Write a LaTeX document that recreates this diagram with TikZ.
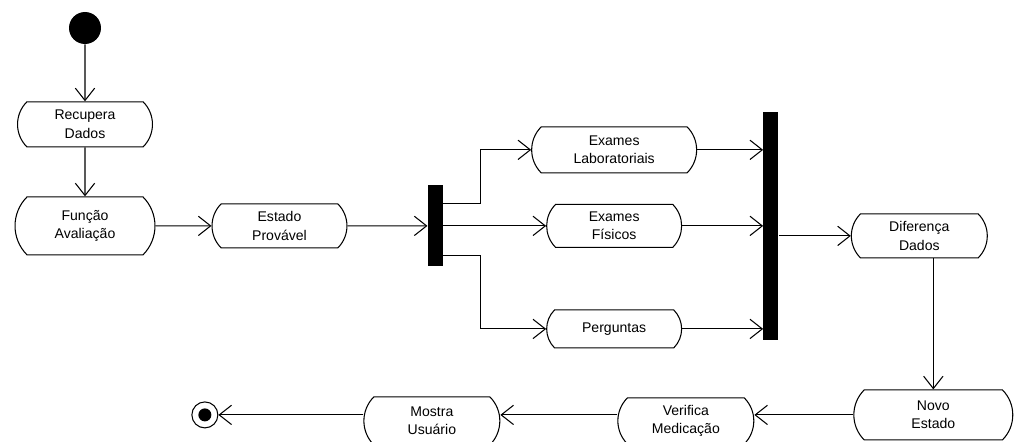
\documentclass[tikz,border=0pt]{standalone}
\usepackage{fontspec}
\setsansfont{Liberation Sans}
\usepackage{tikz}
\usetikzlibrary{positioning, calc, shapes.misc, arrows.meta}
\tikzstyle{Flow} = [
    line width = 0.6pt,
    -{Straight Barb[length=7pt, width=11pt]}
]

\begin{document}
\begin{tikzpicture}[
x = 0.02cm, y = -0.02cm,
action/.style = {
    rounded rectangle,
    rounded rectangle arc length = 90,
    draw,
    line width = 0.6pt,
    align = center,
    inner sep = 2pt,
    minimum width = 2.84cm,
    minimum height = 0.9cm,
    font = \sffamily\fontsize{8}{10.6}\selectfont
    },
bar/.style = {
    rectangle,
    fill = black,
    inner sep = 0pt,
    minimum width = 0.3cm
    },
initial/.style = {
    circle,
    fill = black,
    inner sep = 0pt,
    minimum size = 0.64cm
    },
final/.style = {
    circle,
    draw,
    line width = 0.6pt,
    inner sep = 0pt,
    minimum size = 0.52cm,
    path picture = {\fill (path picture bounding box.center) circle (0.13cm);}
    }
]

\useasboundingbox (0,0) rectangle (1018,442);
\clip (0,0) rectangle (1018,442);

\node [initial] (1) at (85,28) {};
\node [action, below = 1.14cm of 1] (2) {Recupera\\Dados};
\node [action, below = 0.98cm of 2, minimum width = 2.94cm, minimum height = 1.16cm] (3) {Função\\Avaliação};
\node [action, right = 1.12cm of 3, minimum height = 0.88cm] (4) {Estado\\Provável};
\node [bar, right = 1.6cm of 4, minimum height = 1.62cm] (5) {};
\node [action, right = 2.06cm of 5, minimum height = 0.86cm] (7) {Exames\\Físicos};
\node [action, above = 0.61cm of 7, minimum width = 3.44cm, minimum height = 0.92cm] (6) {Exames\\Laboratoriais};
\node [action, below = 1.23cm of 7, minimum height = 0.76cm] (8) {Perguntas};
\node [bar, right = 1.62cm of 7, minimum height = 4.56cm] (9) {};
\node [action, right = 1.44cm of 9, yshift = -0.2cm, minimum width = 2.86cm, minimum height = 0.88cm] (10) {Diferença\\Dados};
\node [action, below = 2.62cm of 10, xshift = 0.28cm, minimum width = 3.32cm, minimum height = 1cm] (11) {Novo\\Estado};
\node [action, left = 1.98cm of 11, yshift = -0.12cm, minimum width = 2.86cm, minimum height = 0.92cm] (12) {Verifica\\Medicação};
\node [action, left = 2.34cm of 12, minimum width = 2.86cm, minimum height = 0.96cm] (13) {Mostra\\Usuário};
\node [final, left = 2.9cm of 13, yshift = 0.12cm] (14) {};

\draw[Flow] (1) -- (2);
\draw[Flow] (2) -- (3);
\draw[Flow] (3) -- (4);
\draw[Flow] (4) -- (5);

\draw[Flow] ($(5.east)+(0,-22)$) -- ++(37,0) |- (6.west);
\draw[Flow] (5.east) -- (7.west);
\draw[Flow] ($(5.east)+(0,30)$) -- ++(37,0) |- (8.west);

\draw[Flow] (6.east) -- (6.east -| 9.west);
\draw[Flow] (7.east) -- (9.west);
\draw[Flow] (8.east) -- (8.east -| 9.west);

\draw[Flow] (9.east |- 10.west) -- (10.west);
\draw[Flow] (10.south -| 11.north) -- (11.north);
\draw[Flow] (11.west) -- (11.west -| 12.east);
\draw[Flow] (12.west |- 11.west) -- (11.west -| 13.east);
\draw[Flow] (13.west |- 14) -- (14);

\end{tikzpicture}
\end{document}
